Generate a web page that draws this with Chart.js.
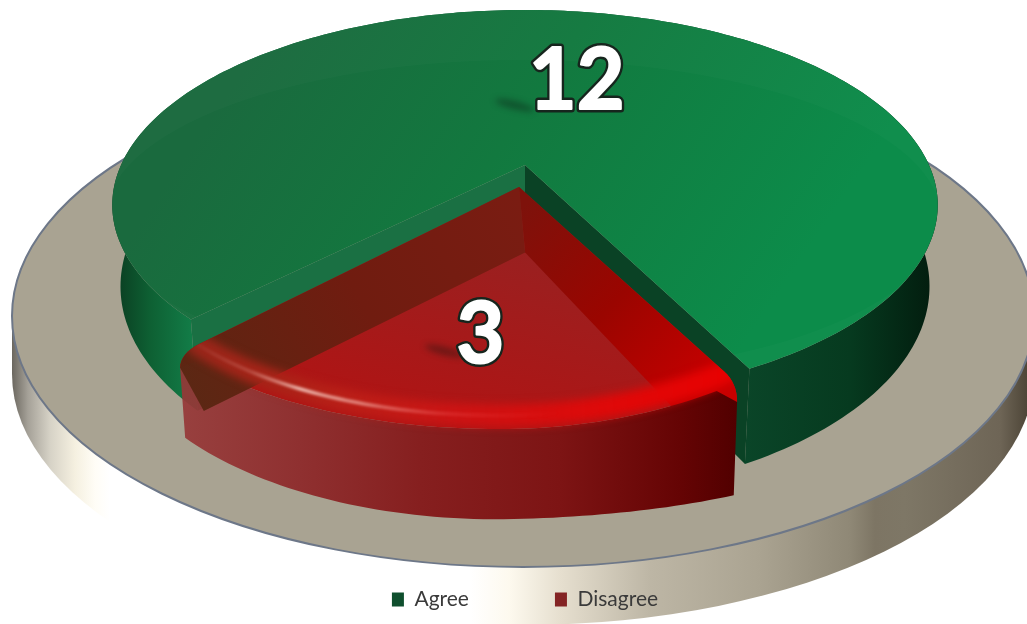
<!DOCTYPE html>
<html lang="en">
<head>
  <meta charset="UTF-8">
  <title>Agree vs. Disagree</title>
  <script src="https://cdn.jsdelivr.net/npm/chart.js"></script>
  <style>
    html, body { margin: 0; padding: 0; background: #fff; overflow: hidden; }
    canvas { display: block; }
  </style>
</head>
<body>
  <canvas id="voteChart" width="1027" height="624"></canvas>

  <script>
    const categories = ['Agree', 'Disagree'];
    const votes = [12, 3];
    const legendColors = ['#0f4f2e', '#842424'];

    // disc plane -> screen, simple perspective so the near edge is larger
    const CX = 525, CY = 165, RX = 404, RY = 186.8, K = 0.205;
    const DEPTH = 78, RED_DEPTH = 70;

    function project(u, v, drop = 0, squeeze = 1) {
      const w = 1 - K * v;
      return [CX + RX * u * squeeze / w, CY + RY * v / w + drop / w];
    }

    // the exploded slice sits a little nearer the viewer and tilts slightly
    function projectRed(u, v, drop = 0, squeeze = 1) {
      const right = Math.max(0, u);
      return project(u * squeeze - 0.0145 - 0.015 * right, v + 0.115 - 0.04 * u - 0.15 * u * right, drop * (1 + 1.5 * right * right));
    }

    function arcPoints(proj, start, end, r, drop, squeeze) {
      const pts = [];
      const steps = Math.max(8, Math.ceil((end - start) / 0.02));
      for (let i = 0; i <= steps; i++) {
        const a = start + (end - start) * i / steps;
        pts.push(proj(r * Math.cos(a), r * Math.sin(a), drop, squeeze));
      }
      return pts;
    }

    function quadPoints(p0, c, p1) {
      const out = [];
      for (let t = 0; t <= 1.001; t += 0.125) {
        const m = 1 - t;
        out.push([m * m * p0[0] + 2 * m * t * c[0] + t * t * p1[0], m * m * p0[1] + 2 * m * t * c[1] + t * t * p1[1]]);
      }
      return out;
    }

    function tracePoints(ctx, pts, close = true) {
      ctx.beginPath();
      pts.forEach((p, i) => i ? ctx.lineTo(p[0], p[1]) : ctx.moveTo(p[0], p[1]));
      if (close) ctx.closePath();
    }

    function hGradient(ctx, x0, x1, stops) {
      const g = ctx.createLinearGradient(x0, 0, x1, 0);
      stops.forEach(s => g.addColorStop((s[0] - x0) / (x1 - x0), s[1]));
      return g;
    }

    function drawPlate(ctx) {
      const px = 523, py = 316, prx = 511, pry = 251;
      ctx.save();
      ctx.fillStyle = hGradient(ctx, 0, 1027, [
        [12, '#6b675f'], [28, '#a5a198'], [50, '#d6d2c6'], [75, '#f5f0e0'], [95, '#fffdf6'],
        [110, '#ffffff'], [470, '#ffffff'], [510, '#fdf9ee'], [560, '#e6dfcf'], [650, '#bdb6a5'],
        [760, '#aaa391'], [850, '#8f8876'], [875, '#7d7564'], [905, '#7e7766'], [1000, '#6e6556'], [1027, '#4e4638']
      ]);
      ctx.beginPath();
      ctx.ellipse(px, py + 58, prx, pry, 0, 0, Math.PI);
      ctx.lineTo(px - prx, py);
      ctx.lineTo(px + prx, py);
      ctx.closePath();
      ctx.fill();

      ctx.beginPath();
      ctx.ellipse(px, py, prx, pry, 0, 0, Math.PI * 2);
      ctx.fillStyle = '#a9a392';
      ctx.fill();
      ctx.lineWidth = 2;
      ctx.strokeStyle = '#6d7788';
      ctx.stroke();
      ctx.restore();
    }

    function drawGreen(ctx, arc) {
      const a0 = arc.startAngle, a1 = arc.endAngle;
      const top = arcPoints(project, a0, a1, 1, 0, 1);
      const bottom = arcPoints(project, a0, a1, 1, DEPTH, 0.98);

      // outer wall
      tracePoints(ctx, top.concat(bottom.slice().reverse()));
      ctx.fillStyle = hGradient(ctx, 112, 938, [
        [112, '#0a3a20'], [150, '#0e6033'], [198, '#13804a'], [300, '#0e6a3a'],
        [745, '#0a4528'], [850, '#063a1f'], [935, '#021c0e']
      ]);
      ctx.fill();

      // the two cut faces left by the missing slice
      const apexTop = project(0, 0), apexLow = project(0, 0, DEPTH);
      tracePoints(ctx, [apexTop, top[0], bottom[0], apexLow]);
      ctx.fillStyle = '#1a7043';
      ctx.fill();
      tracePoints(ctx, [apexTop, top[top.length - 1], bottom[bottom.length - 1], apexLow]);
      ctx.fillStyle = '#0a4225';
      ctx.fill();

      // top face
      const face = [apexTop].concat(top);
      tracePoints(ctx, face);
      const g = ctx.createLinearGradient(250, 60, 720, 380);
      g.addColorStop(0, '#1a6a3e');
      g.addColorStop(0.45, '#12793f');
      g.addColorStop(1, '#0c8c4a');
      ctx.fillStyle = g;
      ctx.fill();

      // faint sheen along the far rim
      ctx.save();
      tracePoints(ctx, face);
      ctx.clip();
      ctx.beginPath();
      ctx.rect(0, 0, 1027, 624);
      ctx.ellipse(523, 218, 418, 158, 0, 0, Math.PI * 2);
      ctx.fillStyle = 'rgba(255,255,255,0.02)';
      ctx.fill('evenodd');
      ctx.restore();
    }

    function drawRed(ctx, arc) {
      const a0 = arc.startAngle, a1 = arc.endAngle, r = 0.98, cut = 0.05;
      const at = (rad, a, drop = 0) => projectRed(rad * Math.cos(a), rad * Math.sin(a), drop);

      const rimFront = arcPoints(projectRed, a0 + cut, a1 - cut, r);
      const low = arcPoints(projectRed, a0, a1, r, RED_DEPTH, 0.985);
      const floor = arcPoints(projectRed, a0, a1, r * 0.94, 58);
      const apexTop = projectRed(0, 0), apexLow = projectRed(0.015, 0, 64);

      // corners roll over into the wall instead of ending in a point
      const shoulder0 = at(r, a0, 12), shoulder1 = at(r, a1, 12);
      const curve0 = quadPoints(at(r - cut, a0), at(r, a0), shoulder0);
      const curve1 = quadPoints(shoulder1, at(r, a1), at(r - cut, a1));
      const face = [apexTop].concat(curve0, rimFront, curve1);
      const outline = [apexTop].concat(curve0, low, curve1);

      // floor of the slice seen through the glassy top
      tracePoints(ctx, face);
      const fg = ctx.createLinearGradient(520, 190, 470, 430);
      fg.addColorStop(0, '#7d1a12');
      fg.addColorStop(0.25, '#9a2020');
      fg.addColorStop(1, '#b01414');
      ctx.fillStyle = fg;
      ctx.fill();

      // right inner face
      tracePoints(ctx, [apexTop].concat(curve0, [floor[0], apexLow]));
      const rg = ctx.createLinearGradient(530, 200, 720, 380);
      rg.addColorStop(0, '#7e120b');
      rg.addColorStop(0.5, '#9a0500');
      rg.addColorStop(1, '#c80000');
      ctx.fillStyle = rg;
      ctx.fill();

      // front wall
      tracePoints(ctx, [shoulder0].concat(rimFront, [shoulder1], low.slice().reverse()));
      ctx.fillStyle = hGradient(ctx, 185, 740, [
        [185, 'rgba(150,55,55,0.92)'], [300, '#8f3030'], [420, '#861f1f'],
        [560, '#7d1414'], [680, '#650404'], [740, '#500000']
      ]);
      ctx.fill();

      // left inner face, dark where it shows through
      const lg = ctx.createLinearGradient(190, 380, 520, 200);
      lg.addColorStop(0, 'rgba(90,38,18,0.96)');
      lg.addColorStop(0.5, '#701c10');
      lg.addColorStop(1, '#7a1c12');
      ctx.fillStyle = lg;
      tracePoints(ctx, [apexTop, apexLow, floor[floor.length - 1], shoulder1].concat(curve1.slice(1)));
      ctx.fill();

      // rounded glossy edge along the front of the top
      ctx.save();
      tracePoints(ctx, outline);
      ctx.clip();
      const band = arcPoints(projectRed, a0, a1, r * 0.955, 0);
      ctx.lineCap = 'round';
      ctx.filter = 'blur(4px)';
      tracePoints(ctx, band, false);
      ctx.lineWidth = 22;
      ctx.strokeStyle = hGradient(ctx, 185, 740, [
        [185, '#96261a'], [260, '#a52418'], [340, '#b92018'], [450, '#cc1414'], [620, '#e00808'], [740, '#e80000']
      ]);
      ctx.stroke();
      ctx.filter = 'blur(1.5px)';
      tracePoints(ctx, band, false);
      ctx.lineWidth = 3;
      ctx.strokeStyle = hGradient(ctx, 185, 740, [
        [185, 'rgba(255,200,190,0)'], [250, 'rgba(255,200,190,0.25)'], [300, 'rgba(255,225,215,0.9)'],
        [360, 'rgba(255,210,200,0.65)'], [450, 'rgba(255,110,110,0.25)'], [560, 'rgba(255,60,60,0)']
      ]);
      ctx.stroke();
      ctx.restore();
    }

    function drawValue(ctx, text, x, y, streakX, streakY) {
      ctx.save();
      ctx.filter = 'blur(3px)';
      ctx.fillStyle = 'rgba(10,20,15,0.38)';
      ctx.beginPath();
      ctx.ellipse(x + streakX, y + streakY, 20, 4, 0.25, 0, Math.PI * 2);
      ctx.fill();
      ctx.filter = 'none';

      ctx.translate(x, y);
      ctx.scale(0.96, 1);
      ctx.font = '700 86px Lato, sans-serif';
      ctx.textAlign = 'center';
      ctx.textBaseline = 'middle';
      ctx.lineJoin = 'round';
      ctx.lineWidth = 7;
      ctx.strokeStyle = '#16251d';
      ctx.strokeText(text, 0, 0);
      ctx.lineWidth = 2;
      ctx.strokeStyle = '#ffffff';
      ctx.strokeText(text, 0, 0);
      ctx.fillStyle = '#ffffff';
      ctx.fillText(text, 0, 0);
      ctx.restore();
    }

    const pie3d = {
      id: 'pie3d',
      beforeDraw(chart) {
        drawPlate(chart.ctx);
      },
      // the arcs keep their angles from the library, only the painting is ours
      beforeDatasetDraw(chart, args) {
        const ctx = chart.ctx;
        const arcs = chart.getDatasetMeta(args.index).data;
        ctx.save();
        drawGreen(ctx, arcs[0]);
        drawRed(ctx, arcs[1]);

        const mid0 = (arcs[0].startAngle + arcs[0].endAngle) / 2;
        const mid1 = (arcs[1].startAngle + arcs[1].endAngle) / 2;
        const p0 = project(0.52 * Math.cos(mid0), 0.52 * Math.sin(mid0));
        const p1 = projectRed(0.66 * Math.cos(mid1), 0.66 * Math.sin(mid1));
        drawValue(ctx, String(votes[0]), p0[0] + 22, p0[1] + 3, -62, 24);
        drawValue(ctx, String(votes[1]), p1[0] + 12, p1[1] - 1, -36, 16);
        ctx.restore();
        return false;
      }
    };

    new Chart(document.getElementById('voteChart').getContext('2d'), {
      type: 'pie',
      data: {
        labels: categories,
        datasets: [{ data: votes, backgroundColor: legendColors, borderWidth: 0 }]
      },
      options: {
        responsive: false,
        animation: false,
        rotation: 225,
        layout: { padding: { left: 23, bottom: 4 } },
        plugins: {
          tooltip: { enabled: false },
          legend: {
            position: 'bottom',
            labels: {
              boxWidth: 12,
              boxHeight: 14,
              padding: 86,
              color: '#3a3a3a',
              font: { family: 'Lato, sans-serif', size: 21 }
            }
          }
        }
      },
      plugins: [pie3d]
    });
  </script>
</body>
</html>
